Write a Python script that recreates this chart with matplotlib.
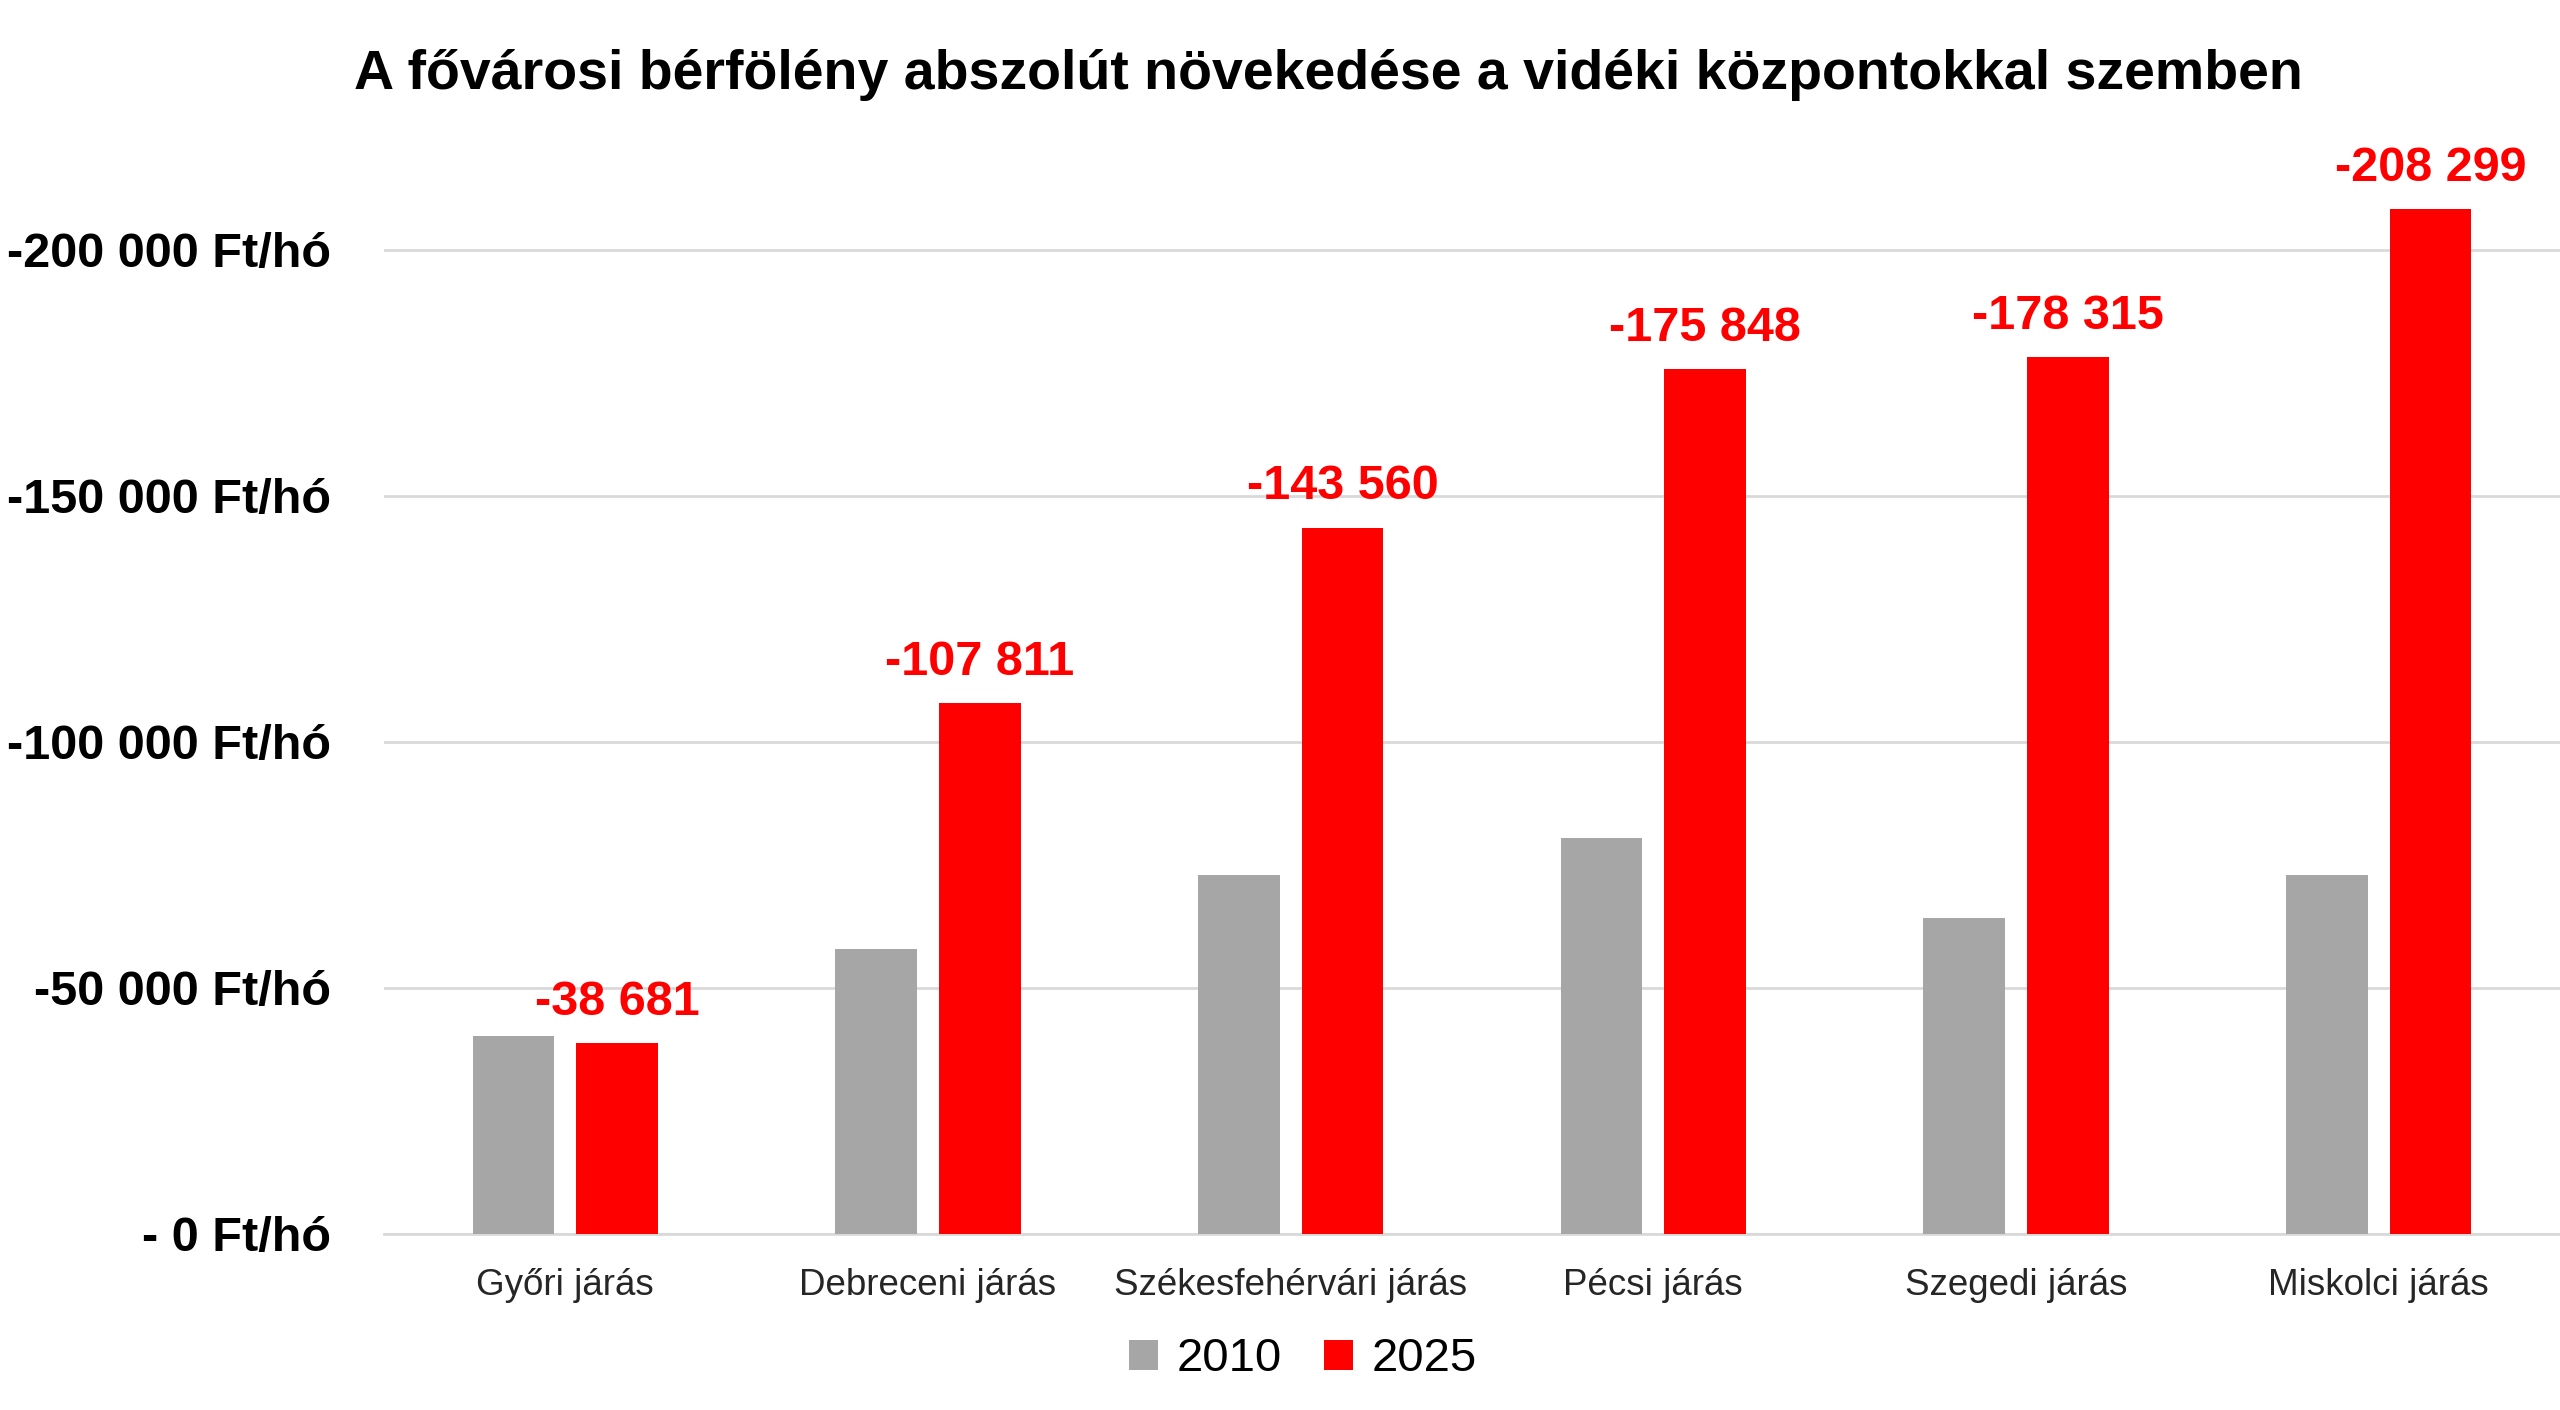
import matplotlib.pyplot as plt
import numpy as np

## Data
## ====
districts = ['Győri járás', 'Debreceni járás', 'Székesfehérvári járás',
             'Pécsi járás', 'Szegedi járás', 'Miskolci járás']
years = ['2010', '2025']
gap_2010 = [-40300, -57900, -73000, -80500, -64100, -72900]
gap_2025 = [-38681, -107811, -143560, -175848, -178315, -208299]
yticks = [0, 50000, 100000, 150000, 200000]

title = 'A fővárosi bérfölény abszolút növekedése a vidéki központokkal szemben'

grey = '#a6a6a6'
red = '#ff0000'


def hu_num(v):
    # thousands separated by spaces, the hungarian way
    return f'{abs(v):,}'.replace(',', ' ')


def tick_label(v):
    if v == 0:
        return '- 0 Ft/hó'
    return '-' + hu_num(v) + ' Ft/hó'


plt.rcParams['font.family'] = ['Liberation Sans', 'DejaVu Sans']

fig = plt.figure(figsize=(25.6, 14.1), dpi=100)
ax = fig.add_axes([0.150, 0.125, 0.850, 0.785])

x = np.arange(len(districts))
w = 0.225
off = 0.143
# bars go upwards, the sign is only in the labels
b1 = ax.bar(x - off, [-v for v in gap_2010], w, color=grey, label=years[0], zorder=3)
b2 = ax.bar(x + off, [-v for v in gap_2025], w, color=red, label=years[1], zorder=3)

for xi, v in zip(x, gap_2025):
    ax.annotate('-' + hu_num(v), (xi + off, -v), xytext=(0, 13),
                textcoords='offset points', ha='center', va='bottom',
                color=red, fontsize=35, fontweight='bold')

ax.set_xlim(-0.5, len(districts) - 0.5)
ax.set_ylim(0, 225000)
ax.set_yticks(yticks)
ax.set_yticklabels([tick_label(v) for v in yticks], fontsize=35, fontweight='bold')
ax.set_xticks(x)
ax.set_xticklabels(districts, fontsize=26.5, color='#262626')
ax.tick_params(axis='y', length=0, pad=38)
ax.tick_params(axis='x', length=0, pad=25)

ax.grid(axis='y', color='#d9d9d9', linewidth=2, zorder=0)
for s in ['top', 'right', 'left']:
    ax.spines[s].set_visible(False)
ax.spines['bottom'].set_color('#d9d9d9')
ax.spines['bottom'].set_linewidth(2)

fig.text(0.519, 0.947, title, ha='center', va='center', fontsize=40, fontweight='bold')

fig.legend(handles=[b1, b2], loc='center', bbox_to_anchor=(0.509, 0.036), ncol=2,
           frameon=False, fontsize=34, handlelength=0.6, handleheight=0.6,
           handletextpad=0.4, columnspacing=0.9)

plt.savefig('out.png', dpi=100)
